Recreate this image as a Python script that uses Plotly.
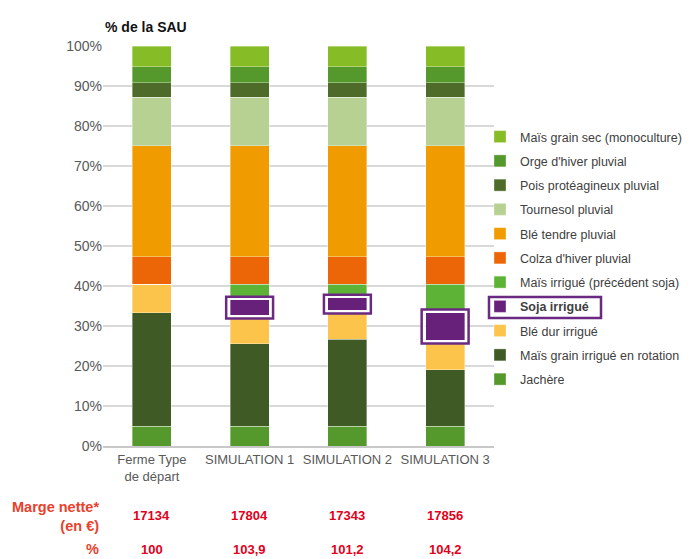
import plotly.graph_objects as go

categories = ["Ferme Type<br>de départ", "SIMULATION 1", "SIMULATION 2", "SIMULATION 3"]

# series, bottom of stack first (values in % de la SAU)
jachere = [5.0, 5.0, 5.0, 5.0]
mais_rotation = [28.3, 20.6, 21.75, 14.1]
ble_dur = [7.1, 6.9, 7.0, 7.15]
soja = [0.0, 4.2, 3.45, 7.25]
mais_precedent = [0.0, 3.7, 3.2, 6.9]
colza = [6.9, 6.9, 6.9, 6.9]
ble_tendre = [27.8, 27.8, 27.8, 27.8]
tournesol = [12.1, 12.1, 12.1, 12.1]
pois = [3.6, 3.6, 3.6, 3.6]
orge = [4.0, 4.0, 4.0, 4.0]
mais_sec = [5.2, 5.2, 5.2, 5.2]

marge_nette = ["17134", "17804", "17343", "17856"]
marge_pct = ["100", "103,9", "101,2", "104,2"]

series = [
    ("Jachère", jachere, "#55982b"),
    ("Maïs grain irrigué en rotation", mais_rotation, "#405a26"),
    ("Blé dur irrigué", ble_dur, "#fcc44a"),
    ("<b>Soja irrigué</b>", soja, "#68217a"),
    ("Maïs irrigué (précédent soja)", mais_precedent, "#5db335"),
    ("Colza d'hiver pluvial", colza, "#ec6608"),
    ("Blé tendre pluvial", ble_tendre, "#f09c00"),
    ("Tournesol pluvial", tournesol, "#b6d192"),
    ("Pois protéagineux pluvial", pois, "#4e6b2a"),
    ("Orge d'hiver pluvial", orge, "#55982b"),
    ("Maïs grain sec (monoculture)", mais_sec, "#86bc25"),
]

FONT = "Liberation Sans, Arial, sans-serif"

fig = go.Figure()
xs = list(range(len(categories)))
for i, (name, vals, col) in enumerate(series):
    fig.add_trace(go.Bar(
        x=xs, y=vals, name=name, legendgroup=f"g{i}", legendrank=1000 - i,
        marker=dict(color=col, line=dict(color="rgba(255,255,255,0.45)", width=0.8)),
        width=0.4,
    ))

shapes = []
# purple highlight boxes around soja segments
base = [a + b + c for a, b, c in zip(jachere, mais_rotation, ble_dur)]
for i, (b0, s) in enumerate(zip(base, soja)):
    if s <= 0:
        continue
    top = b0 + s
    shapes.append(dict(type="rect", xref="x", yref="y", layer="above",
                       x0=i - 0.222, x1=i + 0.222, y0=b0 - 0.15, y1=top + 0.15,
                       line=dict(color="white", width=3), fillcolor="rgba(0,0,0,0)"))
    shapes.append(dict(type="rect", xref="x", yref="y", layer="above",
                       x0=i - 0.24, x1=i + 0.24, y0=b0 - 0.6, y1=top + 0.6,
                       line=dict(color="#6a2a82", width=2.5), fillcolor="rgba(0,0,0,0)"))


def px2x(px):
    return (px - 103) / 391.0


def py2y(py):
    return (446 - py) / 400.0


# box around the legend entry "Soja irrigué"
shapes.append(dict(type="rect", xref="paper", yref="paper",
                   x0=px2x(489), x1=px2x(601), y0=py2y(318), y1=py2y(297),
                   line=dict(color="#6a2a82", width=2.5)))

annotations = [
    dict(text="<b>% de la SAU</b>", xref="paper", yref="paper", x=0, y=py2y(27),
         xanchor="left", yanchor="middle", showarrow=False,
         font=dict(family=FONT, size=14, color="#111111")),
    dict(text="<b>Marge nette*<br>(en €)</b>", xref="paper", yref="paper",
         x=px2x(101), y=py2y(516), xanchor="right", yanchor="middle", align="right",
         showarrow=False, font=dict(family=FONT, size=14.5, color="#e8412c")),
    dict(text="<b>%</b>", xref="paper", yref="paper",
         x=px2x(101), y=py2y(549), xanchor="right", yanchor="middle",
         showarrow=False, font=dict(family=FONT, size=14.5, color="#e8412c")),
]
for i, (m, p) in enumerate(zip(marge_nette, marge_pct)):
    annotations.append(dict(text=f"<b>{m}</b>", xref="x", yref="paper", x=i, y=py2y(515),
                            xanchor="center", yanchor="middle", showarrow=False,
                            font=dict(family=FONT, size=13, color="#e2001a")))
    annotations.append(dict(text=f"<b>{p}</b>", xref="x", yref="paper", x=i, y=py2y(549),
                            xanchor="center", yanchor="middle", showarrow=False,
                            font=dict(family=FONT, size=13, color="#e2001a")))

fig.update_layout(
    width=699, height=559,
    margin=dict(l=103, r=205, t=46, b=113),
    barmode="stack",
    plot_bgcolor="white", paper_bgcolor="white",
    showlegend=True,
    legend=dict(traceorder="grouped", x=px2x(480), y=py2y(122),
                xanchor="left", yanchor="top",
                font=dict(family=FONT, size=12.5, color="#404040"),
                tracegroupgap=5, bgcolor="rgba(0,0,0,0)"),
    xaxis=dict(tickmode="array", tickvals=xs, ticktext=categories, range=[-0.5, 3.5],
               tickangle=0, showgrid=False, showline=True, linecolor="#c8c8c8", linewidth=2,
               ticks="", tickfont=dict(family=FONT, size=13, color="#595959")),
    yaxis=dict(range=[0, 100], dtick=10, ticksuffix="%", showgrid=True,
               gridcolor="#d9d9d9", gridwidth=1.5, zeroline=False,
               tickfont=dict(family=FONT, size=14, color="#595959")),
    shapes=shapes, annotations=annotations,
    bargap=0.6,
)

fig.write_html("out.html")
